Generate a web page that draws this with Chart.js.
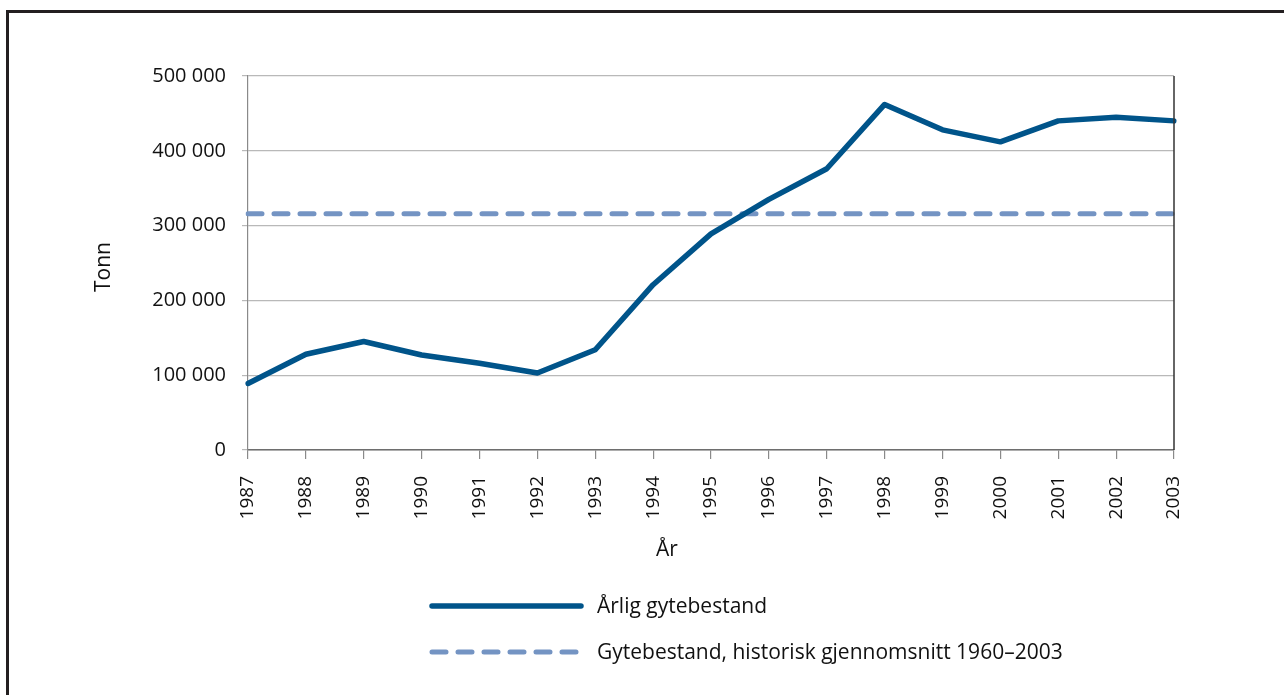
<!DOCTYPE html>
<html lang="no">
<head>
<meta charset="utf-8">
<title>Gytebestand 1987–2003</title>
<script src="https://cdn.jsdelivr.net/npm/chart.js@4.4.1/dist/chart.umd.min.js"></script>
<style>
  html, body { margin: 0; padding: 0; background: #fff; }
  #wrap { position: relative; width: 1284px; height: 695px; overflow: hidden; }
  #wrap canvas { position: absolute; left: 0; top: 0; }
  /* outer frame: only left and top edges are visible in the picture */
  #frame { position: absolute; left: 6px; top: 10px; right: -20px; bottom: -20px;
           border-left: 3px solid #231f20; border-top: 3px solid #231f20; pointer-events: none; }
</style>
</head>
<body>
<div id="wrap">
  <canvas id="gyteChart" width="1284" height="695"></canvas>
  <div id="frame"></div>
</div>
<script>
const years = ['1987', '1988', '1989', '1990', '1991', '1992', '1993', '1994', '1995',
               '1996', '1997', '1998', '1999', '2000', '2001', '2002', '2003'];
const arligGytebestand = [89000, 128000, 145000, 127000, 116000, 103000, 134000, 221000, 289000,
                          335000, 376000, 462000, 428000, 412000, 440000, 445000, 440000];
const historiskSnitt = 316000;
const yTickValues = [0, 100000, 200000, 300000, 400000, 500000];
const seriesNames = ['Årlig gytebestand', 'Gytebestand, historisk gjennomsnitt 1960–2003'];
const yTitle = 'Tonn';
const xTitle = 'År';

const FONT = '"Open Sans", "Noto Sans", sans-serif';
const TEXT = '#111';

// "100 000" style labels
const fmt = v => String(v).replace(/\B(?=(\d{3})+(?!\d))/g, ' ');

// axis titles, right plot edge and the stacked legend underneath
const extrasPlugin = {
    id: 'extras',
    afterDraw(chart) {
        const ctx = chart.ctx;
        const area = chart.chartArea;
        ctx.save();

        ctx.strokeStyle = '#333';
        ctx.lineWidth = 1.5;
        ctx.beginPath();
        ctx.moveTo(area.right, area.top);
        ctx.lineTo(area.right, area.bottom);
        ctx.stroke();

        ctx.fillStyle = TEXT;
        ctx.font = '21px ' + FONT;
        ctx.textAlign = 'center';
        ctx.textBaseline = 'middle';
        ctx.fillText(xTitle, 667, 550);

        ctx.translate(104, (area.top + area.bottom) / 2 + 4);
        ctx.rotate(-Math.PI / 2);
        ctx.fillText(yTitle, 0, 0);
        ctx.restore();

        const rows = [606, 652];
        chart.data.datasets.forEach((ds, i) => {
            ctx.save();
            ctx.strokeStyle = ds.borderColor;
            ctx.lineWidth = ds.borderWidth;
            ctx.lineCap = 'round';
            ctx.setLineDash(ds.borderDash || []);
            ctx.beginPath();
            ctx.moveTo(432, rows[i]);
            ctx.lineTo(581, rows[i]);
            ctx.stroke();
            ctx.setLineDash([]);
            ctx.fillStyle = TEXT;
            ctx.font = '21px ' + FONT;
            ctx.textAlign = 'left';
            ctx.textBaseline = 'middle';
            ctx.fillText(ds.label, 597, rows[i] + 1);
            ctx.restore();
        });
    }
};

new Chart(document.getElementById('gyteChart'), {
    type: 'line',
    data: {
        labels: years,
        datasets: [
            {
                label: seriesNames[0],
                data: arligGytebestand,
                borderColor: '#00548a',
                borderWidth: 5.5,
                borderJoinStyle: 'round',
                borderCapStyle: 'round',
                pointRadius: 0,
                tension: 0,
                fill: false
            },
            {
                label: seriesNames[1],
                data: years.map(() => historiskSnitt),
                borderColor: '#7494c3',
                borderWidth: 5,
                borderDash: [14, 12],
                borderCapStyle: 'round',
                pointRadius: 0,
                fill: false
            }
        ]
    },
    options: {
        responsive: false,
        animation: false,
        layout: { padding: { left: 80, right: 110, top: 76, bottom: 145 } },
        plugins: { legend: { display: false }, tooltip: { enabled: false } },
        scales: {
            x: {
                offset: false,
                afterFit: s => { s.height = 100; },
                grid: { drawOnChartArea: false, drawTicks: true, tickLength: 9, tickColor: '#8a8a8a', lineWidth: 1.2 },
                border: { color: '#6e6e6e', width: 1.5 },
                ticks: { color: TEXT, minRotation: 90, maxRotation: 90, padding: 17, autoSkip: false,
                          font: { family: FONT, size: 19 } }
            },
            y: {
                min: 0,
                max: 500000,
                afterFit: s => { s.width = 168; },
                afterBuildTicks: s => { s.ticks = yTickValues.map(v => ({ value: v })); },
                grid: { color: '#b9b9b9', lineWidth: 1.2, tickLength: 6 },
                border: { color: '#8a8a8a', width: 1.2 },
                ticks: { color: TEXT, padding: 16, font: { family: FONT, size: 20 }, callback: v => fmt(v) }
            }
        }
    },
    plugins: [extrasPlugin]
});
</script>
</body>
</html>
